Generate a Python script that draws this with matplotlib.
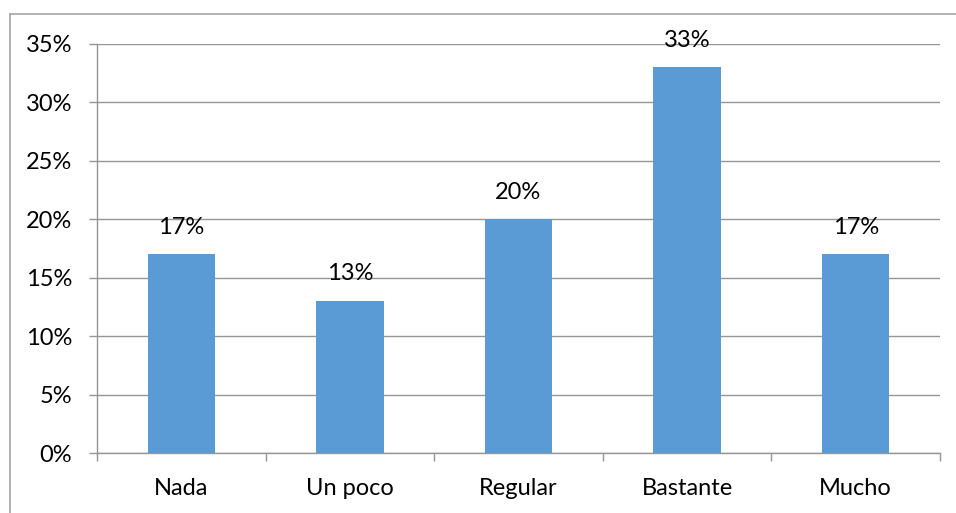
import matplotlib
matplotlib.use("Agg")
import matplotlib.pyplot as plt
from matplotlib.lines import Line2D
from matplotlib.ticker import FuncFormatter, MultipleLocator

categories = ["Nada", "Un poco", "Regular", "Bastante", "Mucho"]
values = [17, 13, 20, 33, 17]

plt.rcParams["font.family"] = ["Lato", "DejaVu Sans"]

W, H = 956, 513
fig = plt.figure(figsize=(W / 100, H / 100), dpi=100)
fig.patch.set_facecolor("white")

# chart frame (top and left edges visible)
frame_col = "#a6a6a6"
fig.add_artist(Line2D([10 / W, 1.0], [1 - 14 / H, 1 - 14 / H], transform=fig.transFigure,
                      color=frame_col, lw=1.2))
fig.add_artist(Line2D([10 / W, 10 / W], [0.0, 1 - 14 / H], transform=fig.transFigure,
                      color=frame_col, lw=1.2))

ax = fig.add_axes([97 / W, 1 - 453 / H, (940 - 97) / W, (453 - 44) / H])
x = list(range(len(categories)))
ax.bar(x, values, width=0.4, color="#5b9bd5", zorder=3)

ax.set_xlim(-0.5, len(categories) - 0.5)
ax.set_ylim(0, 35)
ax.yaxis.set_major_locator(MultipleLocator(5))
ax.yaxis.set_major_formatter(FuncFormatter(lambda v, p: f"{v:.0f}%"))

grid_col = "#969696"
ax.grid(axis="y", color=grid_col, lw=1.0, zorder=0)
for side in ["top", "right"]:
    ax.spines[side].set_visible(False)
for side in ["left", "bottom"]:
    ax.spines[side].set_color(grid_col)
    ax.spines[side].set_linewidth(1.0)

fs = 17
ax.set_xticks(x)
ax.set_xticklabels(categories)
ax.set_xticks([i + 0.5 for i in range(-1, len(categories))], minor=True)
ax.tick_params(axis="x", which="major", length=0, pad=18, labelsize=fs)
ax.tick_params(axis="x", which="minor", length=6, color=grid_col, width=1.0)
ax.tick_params(axis="y", length=6, color=grid_col, width=1.0, pad=12, labelsize=fs)

for xi, v in zip(x, values):
    ax.annotate(f"{v}%", (xi, v), xytext=(0, 12), textcoords="offset points",
                ha="center", va="bottom", fontsize=fs, color="black")

fig.savefig("out.png", dpi=100, facecolor="white")
